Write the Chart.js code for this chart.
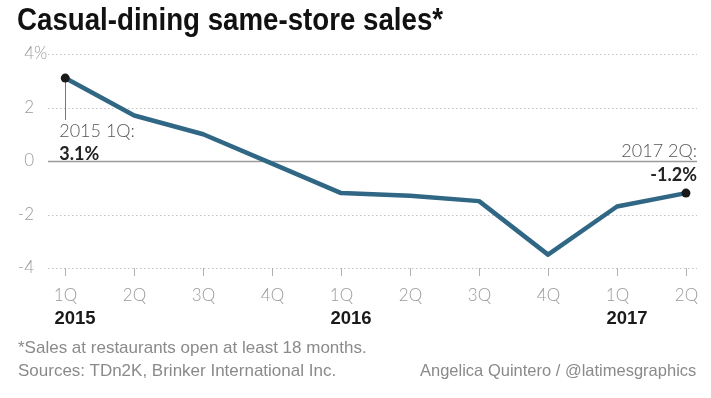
<!DOCTYPE html>
<html>
<head>
<meta charset="utf-8">
<script src="https://cdn.jsdelivr.net/npm/chart.js@4"></script>
<style>
  html, body { margin: 0; padding: 0; background: #fff; }
  #wrap { position: relative; width: 711px; height: 398px; overflow: hidden; }
  #title { position: absolute; left: 17px; top: 1px; font: bold 32px "Liberation Sans", sans-serif; color: #111; white-space: nowrap; transform: scaleX(0.865); transform-origin: 0 0; }
  .foot { position: absolute; font: 17px "Liberation Sans", sans-serif; color: #8a8a8a; white-space: nowrap; }
  canvas { position: absolute; left: 0; top: 0; }
</style>
</head>
<body>
<div id="wrap">
  <canvas id="salesChart" width="711" height="398"></canvas>
  <div id="title">Casual-dining same-store sales*</div>
  <div class="foot" style="left:18px; top:338px;">*Sales at restaurants open at least 18 months.</div>
  <div class="foot" style="left:18px; top:361px;">Sources: TDn2K, Brinker International Inc.</div>
  <div class="foot" style="left:420px; top:361px; font-size:16.5px;">Angelica Quintero / @latimesgraphics</div>
</div>
<script>
// quarterly same-store sales change, %
const quarters = ["1Q", "2Q", "3Q", "4Q", "1Q", "2Q", "3Q", "4Q", "1Q", "2Q"];
const years = ["2015", "", "", "", "2016", "", "", "", "2017", ""];
const sales = [3.1, 1.7, 1.0, -0.1, -1.2, -1.3, -1.5, -3.5, -1.7, -1.2];
const yTicks = [4, 2, 0, -2, -4];

document.addEventListener("DOMContentLoaded", function () {
    const canvas = document.getElementById("salesChart");

    /*
    | Custom axes, gridlines and callouts
    */
    const decorations = {
        id: "decorations",
        beforeDatasetsDraw(chart) {
            const ctx = chart.ctx;
            const x = chart.scales.x;
            const y = chart.scales.y;
            const area = chart.chartArea;
            ctx.save();

            // gridlines
            yTicks.forEach(v => {
                const py = Math.round(y.getPixelForValue(v)) + 0.5;
                ctx.beginPath();
                if (v === 0) {
                    ctx.setLineDash([]);
                    ctx.strokeStyle = "#9a9a9a";
                    ctx.lineWidth = 1.5;
                } else {
                    ctx.setLineDash([1.5, 2.5]);
                    ctx.strokeStyle = "#c4c4c4";
                    ctx.lineWidth = 1;
                }
                ctx.moveTo(area.left, py);
                ctx.lineTo(area.right, py);
                ctx.stroke();
            });
            ctx.setLineDash([]);

            // y labels
            ctx.font = "300 17px Lato, sans-serif";
            ctx.fillStyle = "#9a9a9a";
            ctx.textBaseline = "middle";
            yTicks.forEach(v => {
                const py = y.getPixelForValue(v);
                ctx.textAlign = "right";
                ctx.fillText(String(v), 34, py);
                if (v === 4) {
                    ctx.textAlign = "left";
                    ctx.fillText("%", 34, py);
                }
            });

            // x tick marks and labels
            const bottom = y.getPixelForValue(-4);
            ctx.strokeStyle = "#b0b0b0";
            ctx.lineWidth = 1;
            ctx.textAlign = "center";
            ctx.textBaseline = "alphabetic";
            quarters.forEach((q, i) => {
                const px = Math.round(x.getPixelForValue(i)) + 0.5;
                ctx.beginPath();
                ctx.moveTo(px, bottom);
                ctx.lineTo(px, bottom + 8);
                ctx.stroke();
                ctx.font = "300 17px Lato, sans-serif";
                ctx.fillStyle = "#9a9a9a";
                ctx.fillText(q, px, bottom + 33);
                if (years[i]) {
                    ctx.font = "bold 18.5px 'Liberation Sans', sans-serif";
                    ctx.fillStyle = "#1a1a1a";
                    ctx.textAlign = "left";
                    ctx.fillText(years[i], px - 11, bottom + 56);
                    ctx.textAlign = "center";
                }
            });

            // callout for first point
            const fx = Math.round(x.getPixelForValue(0)) + 0.5;
            const fy = y.getPixelForValue(sales[0]);
            ctx.strokeStyle = "#777";
            ctx.beginPath();
            ctx.moveTo(fx, fy);
            ctx.lineTo(fx, fy + 42);
            ctx.stroke();
            ctx.restore();
        },
        afterDatasetsDraw(chart) {
            const ctx = chart.ctx;
            const x = chart.scales.x;
            const y = chart.scales.y;
            const last = sales.length - 1;
            ctx.save();

            // endpoint dots
            [0, last].forEach(i => {
                ctx.beginPath();
                ctx.arc(x.getPixelForValue(i), y.getPixelForValue(sales[i]), 4.5, 0, Math.PI * 2);
                ctx.fillStyle = "#1a1a1a";
                ctx.fill();
            });

            // callout texts
            const fx = x.getPixelForValue(0);
            ctx.textBaseline = "alphabetic";
            ctx.textAlign = "left";
            ctx.font = "300 18px Lato, sans-serif";
            ctx.fillStyle = "#555";
            ctx.fillText("2015 1Q:", fx - 6, y.getPixelForValue(0.9));
            ctx.font = "bold 18px Lato, sans-serif";
            ctx.fillStyle = "#222";
            ctx.fillText(sales[0].toFixed(1) + "%", fx - 6, y.getPixelForValue(0.05));

            const lx = x.getPixelForValue(last) + 11;
            ctx.textAlign = "right";
            ctx.font = "300 18px Lato, sans-serif";
            ctx.fillStyle = "#555";
            ctx.fillText("2017 2Q:", lx, y.getPixelForValue(0.15));
            ctx.font = "bold 18px Lato, sans-serif";
            ctx.fillStyle = "#222";
            ctx.fillText(sales[last].toFixed(1) + "%", lx, y.getPixelForValue(-0.75));
            ctx.restore();
        }
    };

    new Chart(canvas, {
        type: "line",
        data: {
            datasets: [
                {
                    label: "Same-store sales",
                    data: sales.map((v, i) => ({ x: i, y: v })),
                    borderColor: "#2f6784",
                    borderWidth: 4.5,
                    pointRadius: 0,
                    tension: 0,
                    borderJoinStyle: "round"
                }
            ]
        },
        options: {
            responsive: false,
            animation: false,
            layout: { padding: { left: 48, right: 14, top: 54, bottom: 130 } },
            plugins: { legend: { display: false }, tooltip: { enabled: false } },
            scales: {
                x: { type: "linear", min: -0.25, max: 9.16, display: false },
                y: { min: -4, max: 4, display: false }
            }
        },
        plugins: [decorations]
    });
});
</script>
</body>
</html>
